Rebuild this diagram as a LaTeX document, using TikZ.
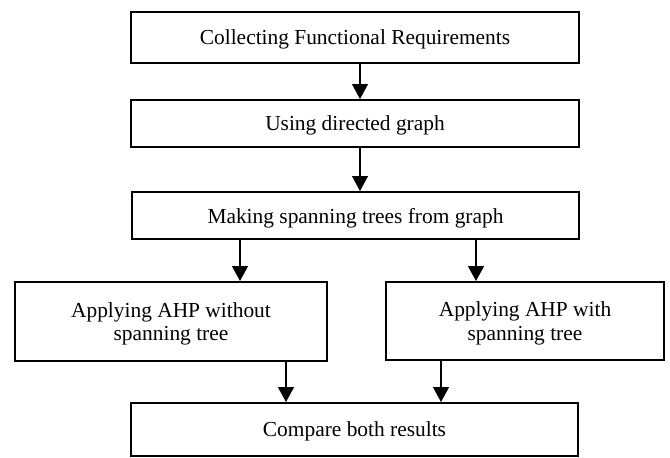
\documentclass[tikz,border=0pt]{standalone}
\usepackage{fontspec}
\setmainfont{Liberation Serif}
\usepackage{tikz}
\usetikzlibrary{arrows.meta}
\tikzset{>={Triangle[length=7.5pt,width=8pt]}}

\begin{document}
\begin{tikzpicture}[
	x=0.5pt, y=-0.5pt,
	box/.style={rectangle, draw, line width=1pt, align=center, inner sep=2pt,
		text depth=0pt, font=\fontsize{10.7}{11.8}\selectfont},
	arr/.style={->, line width=0.6pt},
	]
	
	\useasboundingbox (0,0) rectangle (670,457);
	
	\node[box, minimum width=224pt, minimum height=25.5pt] (collect) at (355,37.5) {Collecting Functional Requirements};
	\node[box, minimum width=224pt, minimum height=23.5pt] (graph) at (355,123.5) {Using directed graph};
	\node[box, minimum width=223.5pt, minimum height=23.5pt] (trees) at (355.5,215.5) {Making spanning trees from graph};
	\node[box, minimum width=156pt, minimum height=39.5pt] (without) at (171,321.5) {Applying AHP without\\spanning tree};
	\node[box, minimum width=139pt, minimum height=39pt] (with) at (525,321) {Applying AHP with\\spanning tree};
	\node[box, minimum width=223.5pt, minimum height=26.5pt] (compare) at (354.5,429.5) {Compare both results};
	
	\draw[arr] ([xshift=2.5pt]collect.south) -- ([xshift=2.5pt]graph.north);
	\draw[arr] ([xshift=2.5pt]graph.south) -- ([xshift=2.25pt]trees.north);
	
	% split
	\draw[arr] ([xshift=-57.75pt]trees.south) -- ([xshift=34.5pt]without.north);
	\draw[arr] ([xshift=60.25pt]trees.south) -- ([xshift=-24.5pt]with.north);
	
	% join
	\draw[arr] ([xshift=57.5pt]without.south) -- ([xshift=-34.25pt]compare.north);
	\draw[arr] ([xshift=-42pt]with.south) -- ([xshift=43.25pt]compare.north);
	
\end{tikzpicture}
\end{document}
